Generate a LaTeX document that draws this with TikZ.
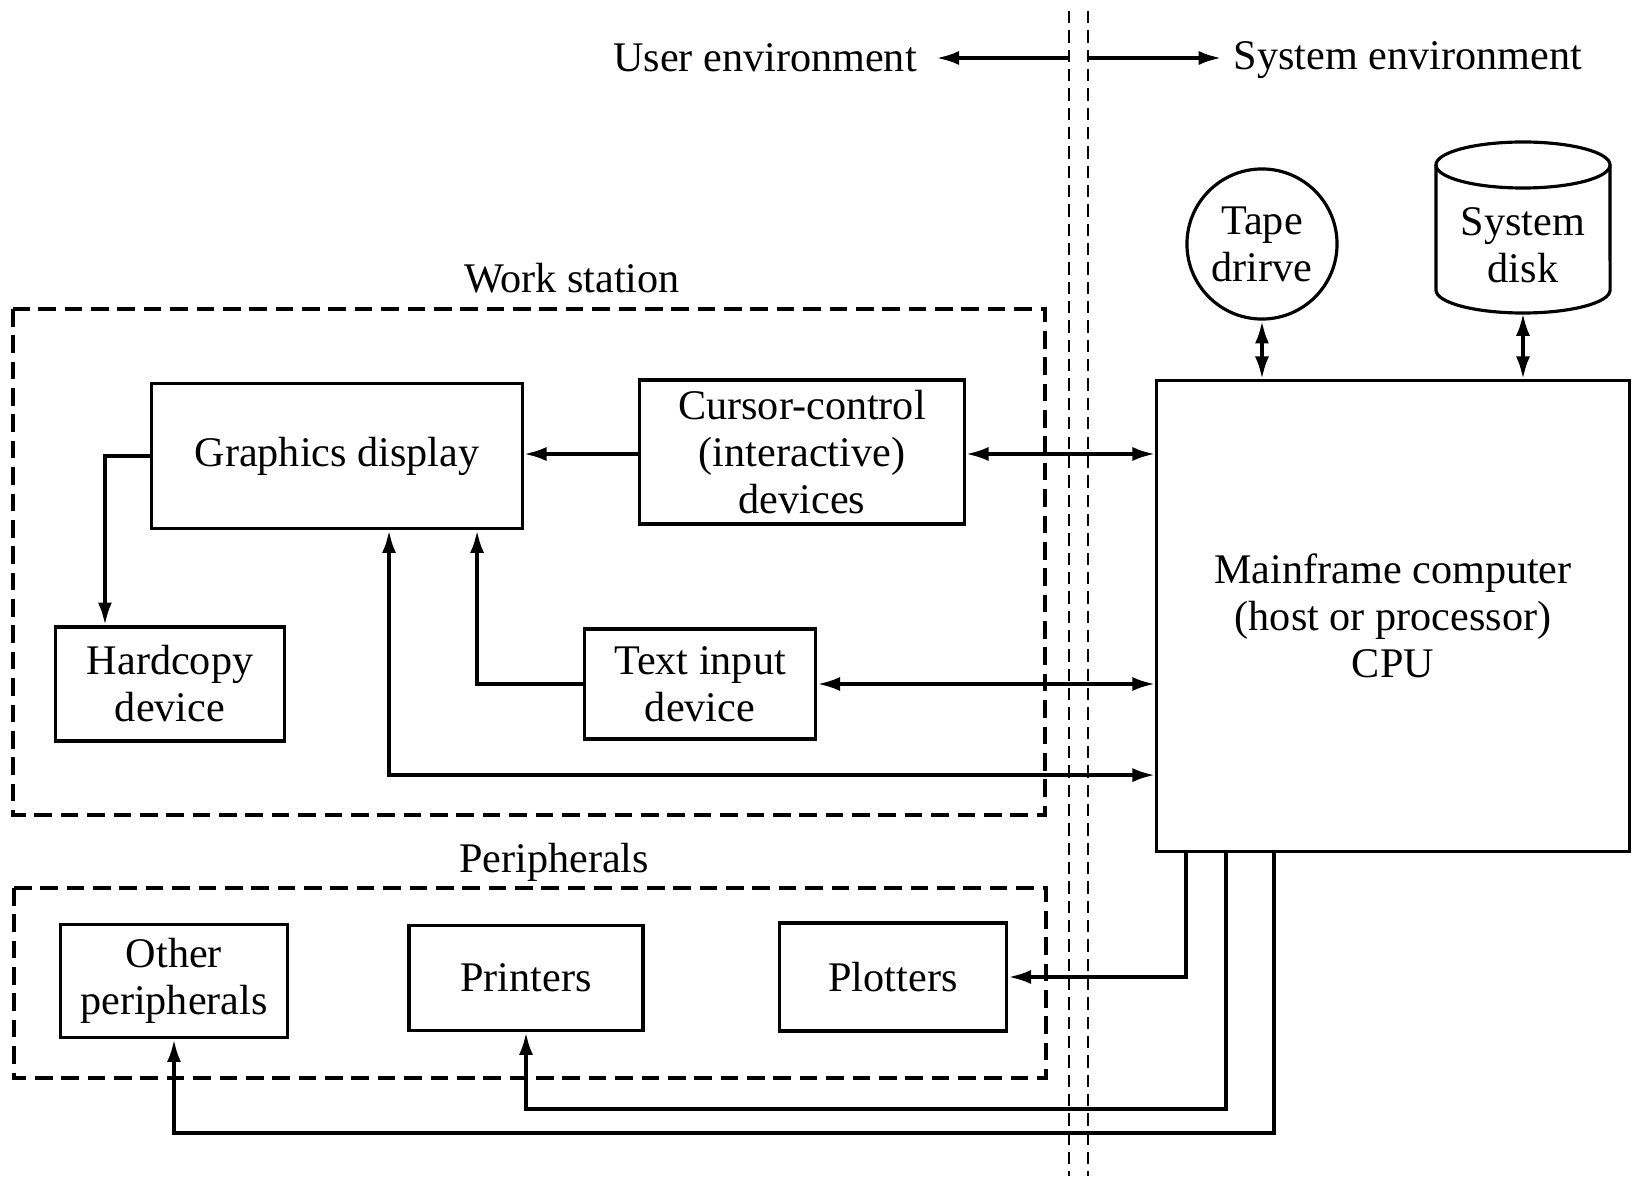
\documentclass[tikz,border=0pt]{standalone}
\usepackage{fontspec}
\setmainfont{Liberation Serif}
\usetikzlibrary{arrows.meta,calc}
\begin{document}
\begin{tikzpicture}[x=0.01cm,y=-0.01cm,
  every node/.style={font=\fontsize{12}{13.4}\selectfont},
  box/.style={draw,line width=0.9pt,align=center,inner sep=0pt},
  conn/.style={line width=1.1pt},
  >={Latex[length=6.5pt,width=4pt]},
  dashbox/.style={line width=0.9pt,dash pattern=on 5pt off 2.5pt},
  vdash/.style={line width=0.8pt,dash pattern=on 3.5pt off 2pt}]
\useasboundingbox (0,0) rectangle (1647,1182);

% separating double dashed line
\coordinate (vAt) at (1069,11);
\coordinate (vAb) at (1069,1176);
\coordinate (vBt) at (1088,11);
\coordinate (vBb) at (1088,1176);
\draw[vdash] (vAt) -- (vAb);
\draw[vdash] (vBt) -- (vBb);

% environment labels
\node (ue) at (765,58) {User environment};
\node (se) at (1408,60) {System environment};
\coordinate (dlA) at (1069,58);
\coordinate (dlB) at (1088,58);
\draw[conn,->] (dlA) -- ([xshift=2pt]ue.east |- dlA);
\draw[conn,->] (dlB) -- (se.west |- dlB);

% group frames
\node (ws) at (572,278) {Work station};
\draw[dashbox] (13,309) rectangle (1045,815);
\node (pe) at (554,862) {Peripherals};
\draw[dashbox] (14,888) rectangle (1046,1078);

% work station boxes
\node[box,minimum width=3.70cm,minimum height=1.45cm] (gd) at (337,456) {Graphics display};
\node[box,minimum width=3.24cm,minimum height=1.44cm] (cc) at (802,452) {Cursor-control\\(interactive)\\devices};
\node[box,minimum width=2.29cm,minimum height=1.14cm] (hc) at (170,684) {Hardcopy\\device};
\node[box,minimum width=2.31cm,minimum height=1.10cm] (ti) at (700,684) {Text input\\device};

% system side
\node[box,minimum width=4.72cm,minimum height=4.70cm] (mf) at (1393,616) {Mainframe computer\\(host or processor)\\CPU};
\node[box,circle,minimum size=1.50cm] (tape) at (1262,244) {Tape\\drirve};
\node[align=center,inner sep=0pt] (disk) at (1523,245) {System\\disk};
\coordinate (diskbot) at (1523,313);
\draw[line width=0.9pt] (1523,165) ellipse [x radius=0.87cm, y radius=0.23cm];
\draw[line width=0.9pt] (1436,165) -- (1436,290)
  arc[start angle=180, end angle=360, x radius=0.87cm, y radius=0.23cm]
  -- (1610,165);

% peripherals
\node[box,minimum width=2.27cm,minimum height=1.13cm] (op) at (174,981) {Other\\peripherals};
\node[box,minimum width=2.34cm,minimum height=1.05cm] (pr) at (526,978) {Printers};
\node[box,minimum width=2.27cm,minimum height=1.08cm] (pl) at (893,977) {Plotters};

% connectors
\draw[conn,->] ([yshift=-0.02cm]cc.west) -- ([yshift=-0.02cm]gd.east |- cc.west);
\draw[conn,<->] ([yshift=-0.02cm]cc.east) -- ([yshift=-0.02cm]mf.west |- cc.east);
\draw[conn,->] (gd.west) -| ([xshift=-0.65cm]hc.north);
\draw[conn,->] (ti.west) -| ([xshift=1.40cm]gd.south);
\draw[conn,<->] (ti.east) -- (mf.west |- ti.east);
\draw[conn,<->] ([xshift=0.52cm]gd.south) |- ([yshift=-1.59cm]mf.west);
\draw[conn,<->] (tape.south) -- (tape.south |- mf.north);
\draw[conn,<->] (diskbot) -- (diskbot |- mf.north);
\draw[conn,->] ([xshift=-2.07cm]mf.south) |- (pl.east);
\draw[conn,->] ([xshift=-1.67cm]mf.south) |- ([yshift=-0.77cm]pr.south) -- (pr.south);
\draw[conn,->] ([xshift=-1.19cm]mf.south) |- ([yshift=-0.94cm]op.south) -- (op.south);
\end{tikzpicture}
\end{document}
